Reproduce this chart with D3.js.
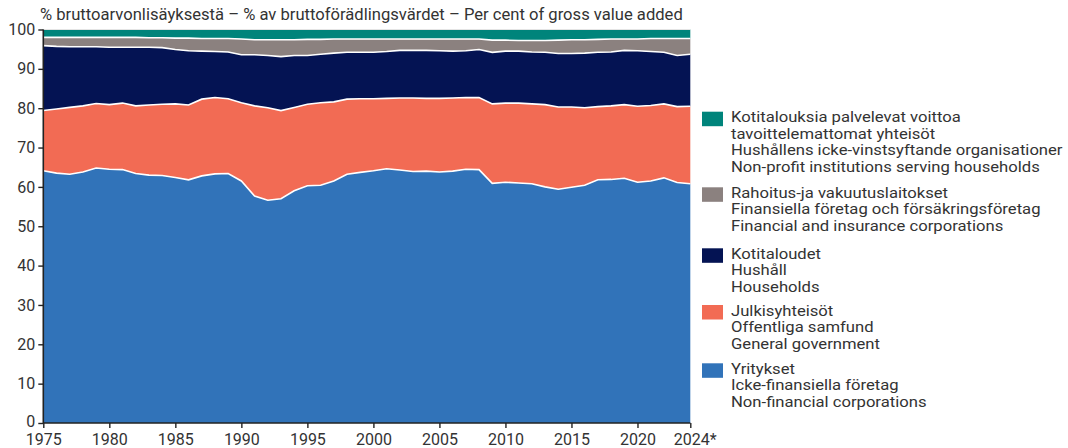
<!DOCTYPE html>
<html>
<head>
  <meta charset="utf-8">
  <script src="https://d3js.org/d3.v7.min.js"></script>
  <style>
    body { margin: 0; background: #fff; }
    svg text { font-family: Roboto, "Liberation Sans", sans-serif; fill: #333; }
  </style>
</head>
<body>
  <div id="chart"></div>
  <script>
    // years 1975..2024 (2024 preliminary)
    var years = d3.range(1975, 2025);

    // shares of gross value added, %, by sector
    var nonFinancial = [64.1, 63.5, 63.2, 63.8, 64.8, 64.5, 64.4, 63.4, 63.0, 62.9,
      62.4, 61.8, 62.8, 63.3, 63.4, 61.5, 57.7, 56.6, 57.0, 59.0,
      60.3, 60.4, 61.5, 63.2, 63.7, 64.1, 64.6, 64.3, 63.9, 64.0,
      63.8, 64.0, 64.5, 64.4, 60.9, 61.2, 61.0, 60.8, 60.0, 59.4,
      59.9, 60.4, 61.8, 61.9, 62.2, 61.2, 61.5, 62.3, 61.1, 60.8];
    var government = [15.3, 16.3, 17.0, 16.8, 16.4, 16.4, 16.9, 17.2, 17.8, 18.1,
      18.7, 19.0, 19.5, 19.4, 19.0, 19.9, 22.9, 23.5, 22.4, 21.2,
      20.7, 21.0, 20.1, 19.1, 18.7, 18.3, 17.9, 18.3, 18.7, 18.5,
      18.7, 18.6, 18.2, 18.3, 20.2, 20.1, 20.3, 20.3, 20.9, 20.9,
      20.4, 19.7, 18.6, 18.7, 18.7, 19.3, 19.2, 18.8, 19.3, 19.7];
    var households = [16.5, 15.9, 15.4, 15.0, 14.4, 14.6, 14.2, 14.9, 14.7, 14.4,
      13.8, 13.8, 12.2, 11.7, 11.9, 12.2, 13.0, 13.3, 13.7, 13.2,
      12.4, 12.3, 12.4, 11.9, 11.8, 11.8, 11.9, 12.1, 12.1, 12.2,
      12.1, 11.9, 11.9, 12.2, 13.1, 13.2, 13.2, 13.2, 13.3, 13.6,
      13.6, 13.9, 13.8, 13.7, 13.8, 14.1, 13.7, 13.1, 13.0, 13.2];
    var financial = [2.1, 2.3, 2.4, 2.4, 2.4, 2.5, 2.5, 2.5, 2.4, 2.5,
      2.9, 3.2, 3.2, 3.3, 3.4, 4.0, 3.8, 4.0, 4.3, 4.0,
      4.1, 3.8, 3.6, 3.4, 3.4, 3.4, 3.2, 2.9, 2.9, 2.9,
      3.0, 3.1, 3.0, 2.7, 3.1, 2.8, 2.7, 2.9, 3.0, 3.4,
      3.5, 3.4, 3.3, 3.3, 2.9, 3.0, 3.3, 3.5, 4.3, 4.0];
    var npish = [2.0, 2.0, 2.0, 2.0, 2.0, 2.0, 2.0, 2.0, 2.1, 2.1,
      2.2, 2.2, 2.3, 2.3, 2.3, 2.4, 2.6, 2.6, 2.6, 2.6,
      2.5, 2.5, 2.4, 2.4, 2.4, 2.4, 2.4, 2.4, 2.4, 2.4,
      2.4, 2.4, 2.4, 2.4, 2.7, 2.7, 2.8, 2.8, 2.8, 2.7,
      2.6, 2.6, 2.5, 2.4, 2.4, 2.4, 2.3, 2.3, 2.3, 2.3];

    var xTicks = [1975, 1980, 1985, 1990, 1995, 2000, 2005, 2010, 2015, 2020, 2024];
    var yTicks = d3.range(0, 101, 10);

    var title = "% bruttoarvonlisäyksestä – % av bruttoförädlingsvärdet – Per cent of gross value added";

    // legend, top to bottom
    var legendItems = [
      { key: "npish", color: "#00847b", lines: ["Kotitalouksia palvelevat voittoa", "tavoittelemattomat yhteisöt", "Hushållens icke-vinstsyftande organisationer", "Non-profit institutions serving households"] },
      { key: "financial", color: "#8b817f", lines: ["Rahoitus-ja vakuutuslaitokset", "Finansiella företag och försäkringsföretag", "Financial and insurance corporations"] },
      { key: "households", color: "#041353", lines: ["Kotitaloudet", "Hushåll", "Households"] },
      { key: "government", color: "#f26b54", lines: ["Julkisyhteisöt", "Offentliga samfund", "General government"] },
      { key: "nonFinancial", color: "#3173b9", lines: ["Yritykset", "Icke-finansiella företag", "Non-financial corporations"] }
    ];

    var keys = ["nonFinancial", "government", "households", "financial", "npish"];
    var colors = { nonFinancial: "#3173b9", government: "#f26b54", households: "#041353", financial: "#8b817f", npish: "#00847b" };

    var rows = years.map(function (yr, i) {
      return { year: yr, nonFinancial: nonFinancial[i], government: government[i],
        households: households[i], financial: financial[i], npish: npish[i] };
    });

    /* svg set up */
    var W = 1068, H = 448;
    var margin = { top: 29.5, left: 43.3 };
    var plotW = 690.3 - 43.3, plotH = 423 - 29.5;

    var svg = d3.select("#chart").append("svg")
      .attr("width", W).attr("height", H);

    var g = svg.append("g")
      .attr("transform", "translate(" + margin.left + "," + margin.top + ")");

    var x = d3.scaleLinear().domain([1975, 2024]).range([0, plotW]);
    var y = d3.scaleLinear().domain([0, 100]).range([plotH, 0]);

    var series = d3.stack().keys(keys)(rows);

    var area = d3.area()
      .x(function (d) { return x(d.data.year); })
      .y0(function (d) { return y(Math.min(d[0], 100)); })
      .y1(function (d) { return y(Math.min(d[1], 100)); });

    g.selectAll("path.layer")
      .data(series)
      .enter().append("path")
      .attr("class", "layer")
      .attr("fill", function (d) { return colors[d.key]; })
      .attr("d", area);

    // white separators on top of each layer except the last
    var topLine = d3.line()
      .x(function (d) { return x(d.data.year); })
      .y(function (d) { return y(d[1]); });

    g.selectAll("path.sep")
      .data(series.slice(0, 4))
      .enter().append("path")
      .attr("class", "sep")
      .attr("fill", "none")
      .attr("stroke", "#fff")
      .attr("stroke-width", 1.6)
      .attr("d", topLine);

    // top edge
    g.append("line")
      .attr("x1", 0).attr("x2", plotW)
      .attr("y1", y(100)).attr("y2", y(100))
      .attr("stroke", "#e4e4e4").attr("stroke-width", 1);

    // axes
    var yAxis = g.append("g")
      .call(d3.axisLeft(y).tickValues(yTicks).tickSize(5).tickPadding(3));
    var xAxis = g.append("g")
      .attr("transform", "translate(0," + plotH + ")")
      .call(d3.axisBottom(x).tickValues(xTicks).tickSize(5).tickPadding(5)
        .tickFormat(function (d) { return d === 2024 ? "2024*" : d; }));

    [yAxis, xAxis].forEach(function (ax) {
      ax.select(".domain").attr("stroke", "#222").attr("stroke-width", 1.6);
      ax.selectAll(".tick line").attr("stroke", "#222").attr("stroke-width", 1.4);
      ax.selectAll("text").attr("font-size", 16).attr("fill", "#333")
        .style("font-family", "Roboto, sans-serif");
    });
    xAxis.select(".domain").attr("d", "M0,0H" + plotW);
    yAxis.select(".domain").attr("d", "M0,0V" + plotH);
    xAxis.selectAll(".tick text").attr("dy", "0.72em");
    yAxis.selectAll(".tick").filter(function (d) { return d === 0; })
      .select("text").attr("dy", "0.2em");
    // shift 2024* label a bit so it sits like the reference
    xAxis.selectAll(".tick").filter(function (d) { return d === 2024; })
      .select("text").attr("text-anchor", "start").attr("dx", -17);

    // title
    svg.append("text")
      .attr("x", 40).attr("y", 20)
      .attr("font-size", 16.6)
      .text(title);

    // legend (text stretched a little wider, the original font is broader)
    var legendX = 702, swatchW = 21, swatchH = 14.5, lineH = 16.6;
    var itemTops = [111.7, 187.3, 248.3, 305, 363.3];
    var legend = svg.append("g");
    legendItems.forEach(function (item, i) {
      var top = itemTops[i];
      legend.append("rect")
        .attr("x", legendX).attr("y", top)
        .attr("width", swatchW).attr("height", swatchH)
        .attr("fill", item.color);
      item.lines.forEach(function (ln, j) {
        legend.append("text")
          .attr("transform", "translate(731," + (top + 10.5 + j * lineH) + ") scale(1.11,1)")
          .attr("font-size", 15)
          .text(ln);
      });
    });
  </script>
</body>
</html>
